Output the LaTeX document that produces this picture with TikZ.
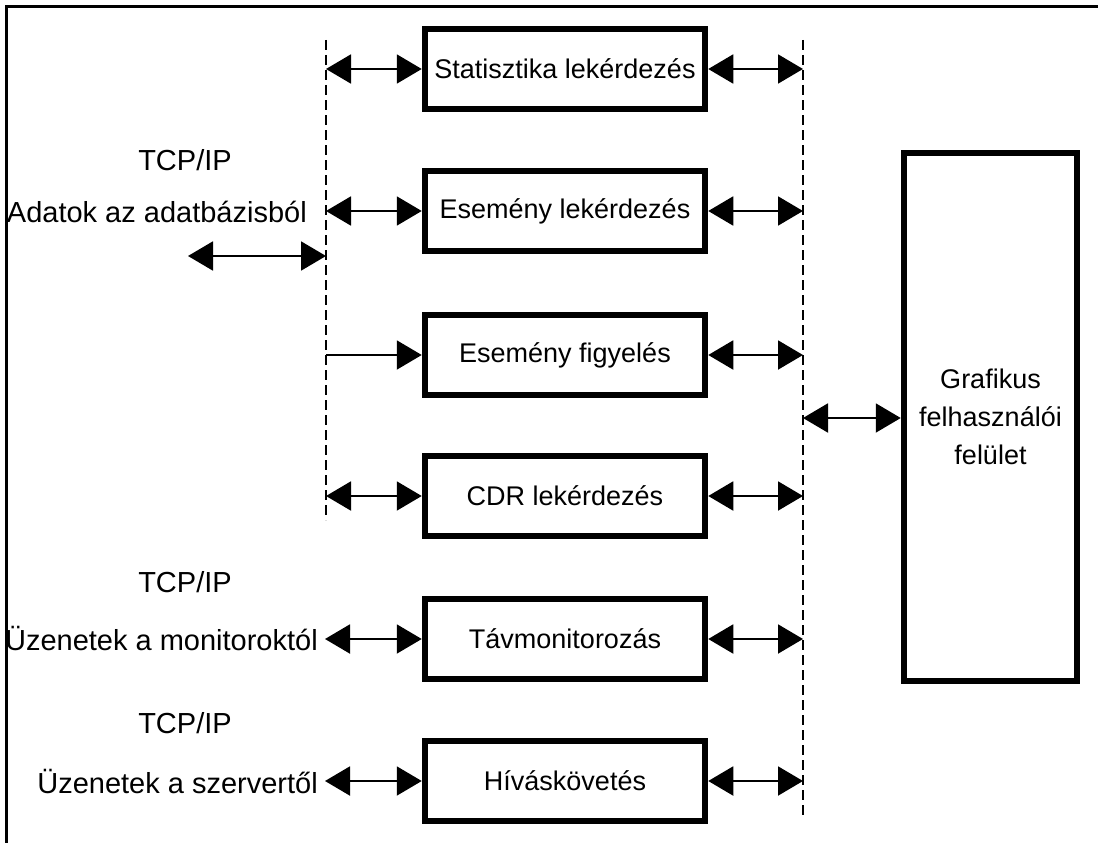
\documentclass[tikz,border=0pt]{standalone}
\usepackage{fontspec}
\setmainfont{Liberation Sans}
\usetikzlibrary{arrows.meta}
\begin{document}
\begin{tikzpicture}[x=1pt,y=-1pt,
  every node/.style={font=\fontsize{27}{38}\selectfont, inner sep=0pt},
  side/.style={font=\fontsize{29}{38}\selectfont},
  box/.style={draw, line width=6.5pt, minimum width=280pt, minimum height=80pt, align=center},
  conn/.style={line width=2pt, {Triangle[length=25pt,width=29pt]}-{Triangle[length=25pt,width=29pt]}},
  oneway/.style={line width=2pt, -{Triangle[length=25pt,width=29pt]}},
  bus/.style={line width=2.5pt, dash pattern=on 10pt off 5pt},
  frameline/.style={line width=2.5pt}]
\useasboundingbox (0,0) rectangle (1098,843);
% frame
\draw[frameline] (6.5,843) -- (6.5,6.5) -- (1098,6.5);
% buses
\coordinate (LT) at (326,40);
\coordinate (LB) at (326,520);
\coordinate (RT) at (803,40);
\coordinate (RB) at (803,815);
\draw[bus] (LT) -- (LB);
\draw[bus] (RT) -- (RB);
% boxes
\node[box] (stat) at (565,69) {Statisztika lekérdezés};
\node[box] (esl) at (565,211) {Esemény lekérdezés};
\node[box] (esf) at (565,355) {Esemény figyelés};
\node[box] (cdr) at (565,496) {CDR lekérdezés};
\node[box] (tav) at (565,639) {Távmonitorozás};
\node[box] (hiv) at (565,781) {Híváskövetés};
\node[draw, line width=6.5pt, minimum width=173pt, minimum height=528pt, align=center] (gui) at (990.5,417) {Grafikus\\felhasználói\\felület};
% bus coordinates
\foreach \n/\y in {stat/69, esl/211, esf/355, cdr/496, tav/639, hiv/781} {
  \coordinate (L\n) at (326,\y);
  \coordinate (R\n) at (803,\y);
}
\coordinate (Rgui) at (803,418);
\coordinate (Ldb) at (326,256);
\coordinate (Ldbend) at (188,256);
% arrows
\draw[conn] (Lstat) -- (stat.west);
\draw[conn] (Lesl) -- (esl.west);
\draw[oneway] (Lesf) -- (esf.west);
\draw[conn] (Lcdr) -- (cdr.west);
\foreach \n in {stat,esl,esf,cdr,tav,hiv} { \draw[conn] (\n.east) -- (R\n); }
\draw[conn] (Rgui) -- (gui.west |- Rgui);
\draw[conn] (Ldbend) -- (Ldb);
% left texts
\node[side] (tcp1) at (185,160) {TCP/IP};
\node[side, anchor=east] (adat) at (307,212) {Adatok az adatbázisból};
\node[side] (tcp2) at (185,582) {TCP/IP};
\node[side, anchor=east] (mon) at (318,639) {Üzenetek a monitoroktól};
\node[side] (tcp3) at (185,723) {TCP/IP};
\node[side, anchor=east] (szer) at (318,781) {Üzenetek a szervertől};
\draw[conn] ([xshift=7pt]mon.east) -- (tav.west);
\draw[conn] ([xshift=7pt]szer.east) -- (hiv.west);
\end{tikzpicture}
\end{document}
